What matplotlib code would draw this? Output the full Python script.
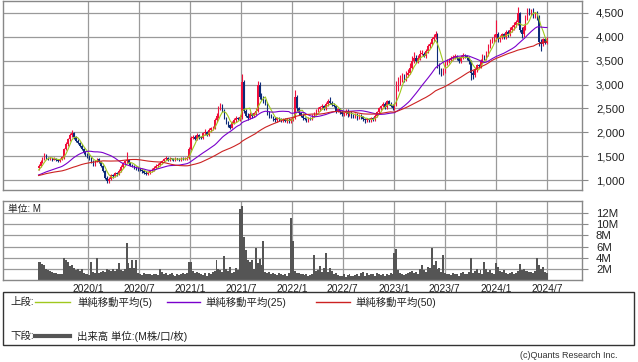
import pandas as pd
import numpy as np
import matplotlib
matplotlib.use("Agg")
import matplotlib.pyplot as plt
from matplotlib.lines import Line2D
from matplotlib.patches import Rectangle

plt.rcParams['font.family'] = ['Liberation Sans', 'Noto Sans CJK JP', 'DejaVu Sans']

# weekly candles, 2019-07-08 .. 2024-07-01
start_week = "2019-07-08"

opens = [
    1250, 1300, 1380, 1450, 1520, 1470, 1440, 1460, 1430, 1450,
    1420, 1400, 1450, 1480, 1650, 1750, 1850, 1950, 1990, 1900,
    1820, 1780, 1720, 1650, 1580, 1540, 1500, 1450, 1380, 1330,
    1400, 1450, 1380, 1300, 1200, 1050, 980, 1030, 1100, 1080,
    1140, 1120, 1200, 1280, 1350, 1390, 1420, 1350, 1320, 1300,
    1270, 1250, 1230, 1210, 1180, 1150, 1130, 1150, 1180, 1220,
    1260, 1300, 1320, 1360, 1400, 1440, 1460, 1430, 1450, 1440,
    1420, 1450, 1440, 1430, 1460, 1440, 1450, 1470, 1650, 1880,
    1900, 1870, 1950, 1900, 1880, 1980, 2000, 1950, 2050, 2080,
    2100, 2250, 2350, 2500, 2560, 2450, 2300, 2200, 2150, 2100,
    2200, 2250, 2300, 2280, 2320, 3050, 2450, 2350, 2300, 2380,
    2350, 2400, 2450, 3000, 2750, 2700, 2650, 2600, 2400, 2350,
    2320, 2280, 2250, 2300, 2270, 2250, 2280, 2240, 2260, 2230,
    2270, 2300, 2750, 2500, 2400, 2350, 2300, 2280, 2250, 2300,
    2280, 2350, 2400, 2450, 2480, 2520, 2550, 2500, 2600, 2650,
    2620, 2580, 2550, 2450, 2480, 2420, 2380, 2400, 2450, 2380,
    2420, 2350, 2330, 2380, 2300, 2350, 2320, 2270, 2250, 2280,
    2250, 2300, 2270, 2350, 2420, 2500, 2550, 2600, 2520, 2650,
    2600, 2550, 2500, 2580, 3000, 3050, 3100, 3150, 3100, 3200,
    3250, 3350, 3500, 3550, 3500, 3550, 3650, 3650, 3600, 3700,
    3800, 3850, 3950, 4000, 4050, 3400, 3300, 3250, 3300, 3450,
    3500, 3520, 3550, 3580, 3600, 3550, 3500, 3580, 3620, 3600,
    3550, 3500, 3250, 3200, 3300, 3400, 3380, 3500, 3600, 3550,
    3650, 3800, 3900, 3950, 4000, 4050, 3950, 4000, 4050, 4000,
    4100, 4050, 4150, 4200, 4250, 4300, 4500, 4150, 4050, 4200,
    4400, 4550, 4500, 4550, 4450, 4500, 4400, 3900, 3850, 3950,
    3880,
]
closes = [
    1300, 1380, 1450, 1520, 1470, 1440, 1460, 1430, 1450, 1420,
    1400, 1450, 1480, 1650, 1750, 1850, 1950, 1990, 1900, 1820,
    1780, 1720, 1650, 1580, 1540, 1500, 1450, 1380, 1330, 1400,
    1450, 1380, 1300, 1200, 1050, 980, 1030, 1100, 1080, 1140,
    1120, 1200, 1280, 1350, 1390, 1420, 1350, 1320, 1300, 1270,
    1250, 1230, 1210, 1180, 1150, 1130, 1150, 1180, 1220, 1260,
    1300, 1320, 1360, 1400, 1440, 1460, 1430, 1450, 1440, 1420,
    1450, 1440, 1430, 1460, 1440, 1450, 1470, 1650, 1880, 1900,
    1870, 1950, 1900, 1880, 1980, 2000, 1950, 2050, 2080, 2100,
    2250, 2350, 2500, 2560, 2450, 2300, 2200, 2150, 2100, 2200,
    2250, 2300, 2280, 2320, 3050, 2450, 2350, 2300, 2380, 2350,
    2400, 2450, 3000, 2750, 2700, 2650, 2600, 2400, 2350, 2320,
    2280, 2250, 2300, 2270, 2250, 2280, 2240, 2260, 2230, 2270,
    2300, 2750, 2500, 2400, 2350, 2300, 2280, 2250, 2300, 2280,
    2350, 2400, 2450, 2480, 2520, 2550, 2500, 2600, 2650, 2620,
    2580, 2550, 2450, 2480, 2420, 2380, 2400, 2450, 2380, 2420,
    2350, 2330, 2380, 2300, 2350, 2320, 2270, 2250, 2280, 2250,
    2300, 2270, 2350, 2420, 2500, 2550, 2600, 2520, 2650, 2600,
    2550, 2500, 2580, 3000, 3050, 3100, 3150, 3100, 3200, 3250,
    3350, 3500, 3550, 3500, 3550, 3650, 3650, 3600, 3700, 3800,
    3850, 3950, 4000, 4050, 3400, 3300, 3250, 3300, 3450, 3500,
    3520, 3550, 3580, 3600, 3550, 3500, 3580, 3620, 3600, 3550,
    3500, 3250, 3200, 3300, 3400, 3380, 3500, 3600, 3550, 3650,
    3800, 3900, 3950, 4000, 4050, 3950, 4000, 4050, 4000, 4100,
    4050, 4150, 4200, 4250, 4300, 4500, 4150, 4050, 4200, 4400,
    4550, 4500, 4550, 4450, 4500, 4400, 3900, 3850, 3950, 3880,
    3950,
]
highs = [
    1340, 1420, 1490, 1570, 1540, 1490, 1490, 1470, 1480, 1470,
    1450, 1470, 1500, 1680, 1790, 1880, 1980, 2040, 2010, 1930,
    1850, 1800, 1750, 1680, 1600, 1570, 1530, 1480, 1420, 1430,
    1470, 1470, 1400, 1320, 1220, 1080, 1060, 1130, 1130, 1170,
    1170, 1230, 1310, 1380, 1420, 1580, 1440, 1380, 1340, 1320,
    1300, 1280, 1260, 1230, 1200, 1180, 1180, 1200, 1250, 1290,
    1330, 1350, 1390, 1430, 1470, 1500, 1480, 1480, 1470, 1460,
    1480, 1470, 1470, 1490, 1480, 1480, 1500, 1700, 1920, 1950,
    1940, 1990, 1970, 1930, 2010, 2060, 2020, 2090, 2120, 2140,
    2300, 2400, 2560, 2620, 2590, 2480, 2330, 2240, 2180, 2240,
    2300, 2340, 2330, 2360, 3230, 3100, 2480, 2400, 2420, 2400,
    2430, 2500, 3080, 3050, 2820, 2760, 2700, 2640, 2440, 2380,
    2350, 2320, 2330, 2330, 2300, 2310, 2300, 2290, 2290, 2300,
    2330, 2880, 2780, 2540, 2430, 2380, 2330, 2310, 2330, 2330,
    2380, 2430, 2480, 2520, 2560, 2590, 2580, 2640, 2700, 2730,
    2660, 2620, 2580, 2500, 2510, 2460, 2430, 2480, 2480, 2450,
    2440, 2380, 2400, 2400, 2380, 2380, 2350, 2300, 2300, 2300,
    2330, 2330, 2380, 2450, 2530, 2580, 2640, 2640, 2680, 2680,
    2640, 2590, 2620, 3080, 3150, 3200, 3250, 3230, 3280, 3320,
    3450, 3600, 3680, 3620, 3620, 3720, 3730, 3680, 3740, 3850,
    3900, 4000, 4050, 4120, 4080, 3450, 3350, 3340, 3500, 3540,
    3560, 3590, 3620, 3640, 3620, 3580, 3620, 3660, 3650, 3620,
    3580, 3520, 3300, 3340, 3440, 3430, 3540, 3650, 3620, 3700,
    3850, 3950, 4000, 4050, 4350, 4100, 4030, 4090, 4080, 4150,
    4150, 4200, 4250, 4300, 4350, 4620, 4520, 4200, 4250, 4450,
    4600, 4600, 4590, 4600, 4520, 4550, 4450, 3950, 3980, 3990,
    4000,
]
lows = [
    1220, 1270, 1350, 1420, 1440, 1410, 1420, 1400, 1410, 1390,
    1370, 1380, 1420, 1450, 1620, 1720, 1820, 1910, 1870, 1800,
    1750, 1700, 1620, 1550, 1510, 1470, 1420, 1350, 1290, 1300,
    1370, 1350, 1270, 1170, 1020, 930, 940, 1000, 1050, 1060,
    1090, 1100, 1170, 1250, 1320, 1360, 1320, 1290, 1270, 1240,
    1220, 1200, 1180, 1150, 1120, 1100, 1110, 1130, 1160, 1200,
    1240, 1270, 1300, 1330, 1370, 1410, 1400, 1400, 1410, 1390,
    1390, 1410, 1400, 1400, 1410, 1410, 1420, 1440, 1620, 1850,
    1830, 1840, 1860, 1850, 1850, 1950, 1920, 1920, 2010, 2050,
    2070, 2210, 2310, 2460, 2420, 2270, 2170, 2120, 2060, 2080,
    2170, 2220, 2250, 2240, 2280, 2400, 2320, 2260, 2270, 2310,
    2320, 2370, 2420, 2700, 2670, 2620, 2570, 2370, 2300, 2290,
    2240, 2220, 2220, 2240, 2220, 2210, 2210, 2200, 2200, 2200,
    2240, 2270, 2450, 2370, 2320, 2260, 2250, 2210, 2220, 2250,
    2250, 2320, 2370, 2420, 2450, 2490, 2470, 2470, 2560, 2590,
    2550, 2520, 2400, 2420, 2380, 2340, 2350, 2360, 2330, 2350,
    2310, 2290, 2300, 2250, 2280, 2280, 2230, 2200, 2220, 2210,
    2220, 2240, 2240, 2320, 2390, 2470, 2520, 2490, 2490, 2570,
    2520, 2460, 2470, 2550, 2870, 3000, 3060, 3050, 3070, 3150,
    3220, 3320, 3460, 3450, 3460, 3520, 3610, 3570, 3560, 3660,
    3760, 3820, 3910, 3960, 3350, 3230, 3180, 3200, 3250, 3420,
    3460, 3490, 3520, 3540, 3510, 3460, 3460, 3540, 3560, 3510,
    3440, 3100, 3120, 3160, 3260, 3340, 3340, 3460, 3510, 3510,
    3600, 3760, 3860, 3900, 3920, 3900, 3900, 3950, 3960, 3960,
    4000, 4010, 4100, 4150, 4200, 4250, 4100, 3980, 4000, 4150,
    4350, 4460, 4450, 4400, 4400, 4350, 3800, 3700, 3800, 3840,
    3850,
]
# volume in millions of shares
volume = [
    3.2, 3.3, 2.8, 2.7, 2.0, 1.8, 1.6, 1.5, 1.3, 1.2,
    1.1, 1.0, 1.1, 3.9, 3.6, 3.3, 2.5, 2.7, 2.2, 1.8,
    2.0, 1.6, 1.9, 1.2, 1.0, 1.1, 0.9, 3.2, 1.4, 1.2,
    3.9, 1.3, 1.5, 1.6, 1.5, 1.9, 1.8, 1.7, 1.9, 1.6,
    2.0, 3.0, 1.8, 1.7, 2.0, 6.6, 3.0, 2.2, 3.6, 2.1,
    3.6, 1.2, 1.0, 0.9, 1.2, 1.0, 1.1, 1.0, 0.9, 1.1,
    1.0, 0.9, 2.0, 1.4, 1.1, 1.3, 0.9, 1.0, 1.2, 0.9,
    0.8, 1.0, 0.9, 1.1, 1.2, 1.0, 1.3, 3.2, 3.3, 1.6,
    1.3, 1.5, 1.2, 1.0, 0.9, 1.2, 0.7, 1.3, 1.0, 1.5,
    1.6, 3.6, 2.0, 1.8, 1.4, 4.3, 2.0, 1.6, 2.4, 1.2,
    1.5, 2.2, 1.8, 12.8, 13.2, 7.7, 5.4, 3.5, 3.2, 3.6,
    2.0, 5.7, 3.0, 3.8, 2.6, 6.9, 1.5, 1.2, 1.4, 1.1,
    1.3, 1.0, 0.9, 1.2, 1.1, 0.9, 1.0, 0.8, 1.3, 11.1,
    7.0, 1.6, 1.3, 1.2, 1.0, 1.1, 0.9, 1.0, 0.8, 0.9,
    1.0, 4.5, 1.6, 1.8, 2.5, 1.4, 2.2, 4.8, 1.4, 2.1,
    1.6, 1.0, 1.2, 0.9, 0.7, 0.8, 1.1, 0.6, 0.9, 1.0,
    0.8, 0.7, 0.9, 1.0, 0.8, 1.2, 1.5, 0.7, 1.2, 0.9,
    1.1, 1.0, 0.8, 1.2, 1.0, 0.9, 1.1, 0.7, 1.0, 0.9,
    1.2, 1.0, 4.8, 5.6, 1.8, 1.3, 1.0, 0.9, 1.1, 1.2,
    1.4, 1.6, 1.2, 1.5, 1.0, 1.9, 2.6, 1.8, 1.5, 2.3,
    2.1, 5.8, 2.6, 3.4, 2.0, 2.2, 1.4, 4.4, 1.3, 1.1,
    1.0, 0.9, 1.2, 1.0, 1.1, 0.8, 1.3, 1.4, 1.1, 1.0,
    1.5, 3.9, 1.2, 1.6, 2.0, 1.3, 1.8, 1.1, 3.2, 2.0,
    1.5, 1.8, 1.2, 1.1, 3.0, 2.3, 1.6, 1.4, 1.8, 1.2,
    1.0, 1.3, 1.5, 1.0, 1.2, 1.6, 2.9, 1.8, 2.0, 1.6,
    1.7, 1.5, 1.4, 1.2, 1.6, 3.9, 2.6, 1.9, 2.3, 1.5,
    1.2,
]
# closes before the visible window (where the moving averages start from)
pre_closes = [1050, 1020, 1000, 1030, 1060, 1080, 1040, 1010, 1050, 1090,
              1120, 1080, 1060, 1040, 1070, 1100, 1130, 1090, 1060, 1080,
              1110, 1100, 1070, 1090, 1120, 1140, 1160, 1180, 1200, 1210]

ma_periods = [5, 25, 50]
ma_colors = ["#a0c81e", "#7a00cc", "#cc2222"]
ma_labels = ["単純移動平均(5)", "単純移動平均(25)", "単純移動平均(50)"]

price_ticks = [1000, 1500, 2000, 2500, 3000, 3500, 4000, 4500]
vol_ticks = [2, 4, 6, 8, 10, 12]

assert len(opens) == len(closes) == len(highs) == len(lows) == len(volume)

df = pd.DataFrame({"Open": opens, "High": highs, "Low": lows,
                   "Close": closes, "Volume": volume},
                  index=pd.date_range(start_week, periods=len(closes), freq="7D"))
all_close = pd.Series(pre_closes + closes)
for p in ma_periods:
    df[f"MA{p}"] = all_close.rolling(p, min_periods=1).mean().values[len(pre_closes):]

W, H = 638, 362
fig = plt.figure(figsize=(W / 100, H / 100), dpi=100)

def fx(px):
    return px / W

def fy(py):
    return 1 - py / H

ax = fig.add_axes([fx(3), fy(190), fx(582) - fx(3), fy(1) - fy(190)])
axv = fig.add_axes([fx(3), fy(280), fx(582) - fx(3), fy(201) - fy(280)], sharex=ax)

UP = "#f0103c"
DOWN = "#0c2a78"
GRID = "#9a9a9a"

up = df["Close"] >= df["Open"]
cols = np.where(up, UP, DOWN)
body_lo = np.minimum(df["Open"], df["Close"])
body_h = np.maximum(np.abs(df["Close"] - df["Open"]), 12)

ax.vlines(df.index, df["Low"], df["High"], colors=cols, lw=0.8, zorder=2)
ax.bar(df.index, body_h, bottom=body_lo, width=5, color=cols, linewidth=0, zorder=2)
for p, c in zip(ma_periods, ma_colors):
    ax.plot(df.index, df[f"MA{p}"], color=c, lw=0.8, zorder=3)

axv.bar(df.index, df["Volume"], width=7, color="#555555", linewidth=0, zorder=2)

# axes setup
x0 = pd.Timestamp("2020-01-01")
px_day = 459 / 1643
ax.set_xlim(x0 - pd.Timedelta(days=85 / px_day), pd.Timestamp("2024-07-01") + pd.Timedelta(days=35 / px_day))
month_ticks = pd.date_range("2020-01-01", "2024-07-01", freq="6MS")

ax.set_ylim(792, 4750)
ax.set_yticks(price_ticks)
ax.set_yticklabels([f"{v:,}" for v in price_ticks])
axv.set_ylim(0, 14.15)
axv.set_yticks(vol_ticks)
axv.set_yticklabels([f"{v}M" for v in vol_ticks])

for a in (ax, axv):
    a.set_xticks(month_ticks)
    a.yaxis.tick_right()
    a.grid(True, color=GRID, lw=0.9, zorder=0)
    a.set_axisbelow(True)
    for s in a.spines.values():
        s.set_color("#888888")
        s.set_linewidth(1)
    a.tick_params(axis="y", length=4, color="#888888", labelsize=8.2, pad=6, labelcolor="#222222")
ax.tick_params(axis="x", length=0, labelbottom=False)
axv.set_xticklabels([f"{d.year}/{d.month}" for d in month_ticks])
axv.tick_params(axis="x", length=0, labelsize=7.4, pad=3, labelcolor="#222222")

fig.text(fx(8), fy(209), "単位: M", fontsize=7, va="center", ha="left", color="#222222")

# legend box
fig.add_artist(Rectangle((fx(3), fy(345)), fx(634) - fx(3), fy(292) - fy(345),
                         transform=fig.transFigure, fill=False, ec="#333333", lw=1))
ly1, ly2 = 302, 336
fig.text(fx(10), fy(ly1), "上段:", fontsize=7.5, va="center", color="#222222")
fig.text(fx(10), fy(ly2), "下段:", fontsize=7.5, va="center", color="#222222")
line_x = [(35, 70), (167, 200), (316, 350)]
text_x = [77, 205, 355]
for (a, b), tx, c, lab in zip(line_x, text_x, ma_colors, ma_labels):
    fig.add_artist(Line2D([fx(a), fx(b)], [fy(ly1), fy(ly1)], color=c, lw=1,
                          transform=fig.transFigure))
    fig.text(fx(tx), fy(ly1), lab, fontsize=7.5, va="center", color="#222222")
fig.add_artist(Line2D([fx(35), fx(70)], [fy(ly2), fy(ly2)], color="#555555", lw=3,
                      transform=fig.transFigure))
fig.text(fx(77), fy(ly2), "出来高 単位:(M株/口/枚)", fontsize=7.5, va="center", color="#222222")

fig.text(fx(618), fy(356), "(c)Quants Research Inc.", fontsize=6.5, ha="right", va="center",
         color="#333333")

fig.savefig("out.png", dpi=100)
